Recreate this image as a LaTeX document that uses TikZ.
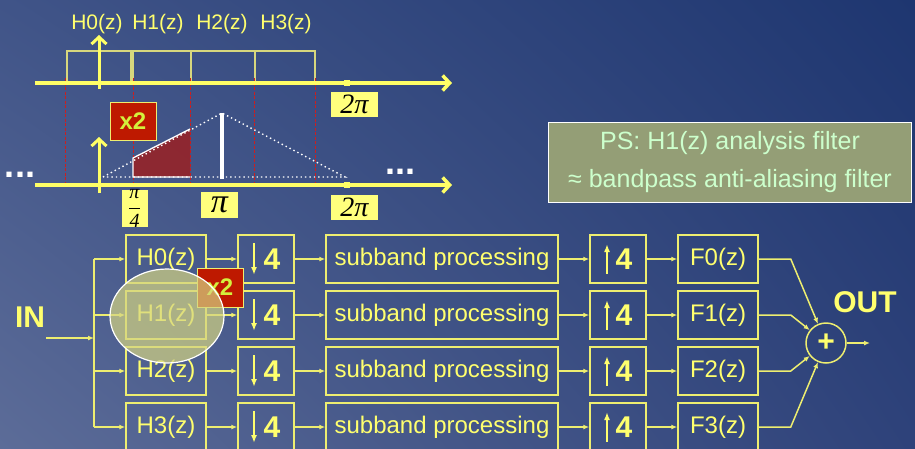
\documentclass[tikz,border=0pt]{standalone}
\usepackage{fontspec}
\setmainfont{Liberation Sans}
\newfontfamily\pifont{Liberation Serif}
\usetikzlibrary{arrows.meta,positioning,shadings}

\definecolor{bgul}{RGB}{64,84,136}
\definecolor{bgur}{RGB}{30,54,112}
\definecolor{bgll}{RGB}{92,108,152}
\definecolor{bglr}{RGB}{46,66,122}
\definecolor{axyel}{RGB}{255,255,102}
\definecolor{boxyel}{RGB}{238,238,112}
\definecolor{txtyel}{RGB}{255,255,110}
\definecolor{bandyel}{RGB}{215,215,125}
\definecolor{piyel}{RGB}{255,255,125}
\definecolor{xred}{RGB}{190,25,0}
\definecolor{xgreen}{RGB}{212,240,60}
\definecolor{psfill}{RGB}{148,158,118}
\definecolor{pstxt}{RGB}{204,255,204}
\definecolor{redband}{RGB}{205,30,30}
\definecolor{hlfill}{RGB}{212,212,130}
\definecolor{trapred}{RGB}{150,35,40}

\begin{document}
\begin{tikzpicture}[x=1pt, y=-1pt,
    blk/.style={draw=boxyel, line width=1.5pt, minimum width=80, minimum height=48, inner sep=0pt, text=txtyel, font=\fontsize{24}{28}\selectfont},
    rate/.style={blk, minimum width=56, font=\fontsize{30}{34}\selectfont\bfseries},
    ratearr/.style={-{Latex[length=8pt,width=6pt]}, line width=1.8pt, draw=txtyel},
    downbox/.style={rate, path picture={\draw[ratearr] ([xshift=-12pt,yshift=16pt]path picture bounding box.center) -- ([xshift=-12pt,yshift=-16pt]path picture bounding box.center);}},
    upbox/.style={rate, path picture={\draw[ratearr] ([xshift=-11pt,yshift=-15pt]path picture bounding box.center) -- ([xshift=-11pt,yshift=15pt]path picture bounding box.center);}},
    sub/.style={blk, minimum width=232},
    sumc/.style={circle, draw=boxyel, line width=1.5pt, minimum size=40, inner sep=0pt, text=txtyel, font=\fontsize{30}{34}\selectfont\bfseries},
    io/.style={text=txtyel, font=\fontsize{30}{34}\selectfont\bfseries},
    arr/.style={-{Latex[length=6pt,width=5pt]}, line width=1.5pt, draw=boxyel},
    wire/.style={line width=1.5pt, draw=boxyel},
    axis/.style={-{Straight Barb[length=7pt,width=15pt]}, line width=3.5pt, draw=axyel},
    bandbox/.style={draw=bandyel, line width=1.2pt},
    bandline/.style={draw=redband, line width=1pt, dash pattern=on 3pt off 1.5pt},
    dotline/.style={draw=white, line width=1.4pt, dash pattern=on 1.4pt off 3pt},
    pibox/.style={fill=piyel, inner sep=0pt, text=black},
    redbox/.style={draw=boxyel, line width=1pt, fill=xred, text=xgreen, minimum width=46, minimum height=38, font=\fontsize{24}{28}\selectfont\bfseries},
    toplbl/.style={text=txtyel, font=\fontsize{21}{24}\selectfont},
    dots/.style={text=white, anchor=base, inner sep=0pt, font=\fontsize{36}{40}\selectfont\bfseries}
]
\useasboundingbox (0,0) rectangle (915,448);
\shade[upper left=bgul, upper right=bgur, lower left=bgll, lower right=bglr] (0,0) rectangle (915,448);

% spectrum of the analysis bank
\node[toplbl] (lh0) at (97,24) {H0(z)};
\node[toplbl] (lh1) at (158,24) {H1(z)};
\node[toplbl] (lh2) at (222,24) {H2(z)};
\node[toplbl] (lh3) at (286,24) {H3(z)};
\draw[bandbox] (67,51) rectangle (131,83);
\draw[bandbox] (133,51) rectangle (191,83);
\draw[bandbox] (191,51) rectangle (255,83);
\draw[bandbox] (255,51) rectangle (315,83);
\draw[bandline] (65,78) -- (65,182) (133,78) -- (133,182) (190,78) -- (190,182)
    (254,78) -- (254,182) (315,78) -- (315,182);
\draw[axis] (35,83) -- (452,83);
\draw[axis, line width=3pt] (99,89) -- (99,35);
\fill[axyel] (344,80) rectangle (350,86);
\node[pibox, minimum width=47, minimum height=25, font=\pifont\itshape\fontsize{28}{28}\selectfont] (tp2) at (354.5,104.5) {2π};

% spectrum after the gain
\fill[trapred, opacity=0.9] (133,158) -- (190,129) -- (190,177) -- (133,177) -- cycle;
\draw[white, line width=1.3pt] (190,129) -- (133,158) -- (133,177) -- (190,177);
\draw[dotline] (103,177) -- (222,113) -- (345,177) -- cycle;
\draw[white, line width=3.5pt] (222,113) -- (222,179);
\draw[axis] (35,185) -- (452,185);
\draw[axis, line width=3pt] (99,193) -- (99,137);
\fill[axyel] (344,182) rectangle (350,188);
\node[dots] (dl) at (20,177) {...};
\node[dots] (dr) at (400,174) {...};
\node[redbox] (gtop) at (133,121) {x2};
\node[pibox, minimum width=26, minimum height=31, font=\pifont\itshape\fontsize{20}{20}\selectfont] (pq) at (134.5,208.5)
    {$\displaystyle{\hbox{π}\over\hbox{4}}$};
\node[pibox, minimum width=37, minimum height=26, font=\pifont\itshape\fontsize{34}{34}\selectfont] (pi) at (219.5,205) {π};
\node[pibox, minimum width=47, minimum height=25, font=\pifont\itshape\fontsize{28}{28}\selectfont] (bp2) at (354.5,207.5) {2π};

% note
\node[draw=white, line width=0.8pt, fill=psfill, text=pstxt, minimum width=363, minimum height=80,
      align=center, font=\fontsize{25}{38}\selectfont] (ps) at (730,162)
      {PS: H1(z) analysis filter\\≈ bandpass anti-aliasing filter};

% filter bank
\node[blk] (h0) at (166,259) {H0(z)};
\node[blk] (h1) at (166,315) {H1(z)};
\node[blk] (h2) at (166,371) {H2(z)};
\node[blk] (h3) at (166,427) {H3(z)};
\node[downbox] (d0) at (266,259) {\hspace*{12pt}4};
\node[downbox] (d1) at (266,315) {\hspace*{12pt}4};
\node[downbox] (d2) at (266,371) {\hspace*{12pt}4};
\node[downbox] (d3) at (266,427) {\hspace*{12pt}4};
\node[sub] (s0) at (442,259) {subband processing};
\node[sub] (s1) at (442,315) {subband processing};
\node[sub] (s2) at (442,371) {subband processing};
\node[sub] (s3) at (442,427) {subband processing};
\node[upbox] (u0) at (618,259) {\hspace*{12pt}4};
\node[upbox] (u1) at (618,315) {\hspace*{12pt}4};
\node[upbox] (u2) at (618,371) {\hspace*{12pt}4};
\node[upbox] (u3) at (618,427) {\hspace*{12pt}4};
\node[blk] (f0) at (718,259) {F0(z)};
\node[blk] (f1) at (718,315) {F1(z)};
\node[blk] (f2) at (718,371) {F2(z)};
\node[blk] (f3) at (718,427) {F3(z)};
\node[sumc] (sum) at (826,343) {+};
\node[io] (inlbl) at (30,317) {IN};
\node[io] (outlbl) at (865,302) {OUT};
\coordinate (inp) at (46,338);
\coordinate (bus) at (94,338);
\coordinate (outp) at (870,343);

\draw[arr] (inp) -- (bus);
\draw[wire] (bus |- h0) -- (bus |- h3);
\draw[arr] (bus |- h0) -- (h0);
\draw[arr] (bus |- h1) -- (h1);
\draw[arr] (bus |- h2) -- (h2);
\draw[arr] (bus |- h3) -- (h3);
\draw[arr] (h0) -- (d0); \draw[arr] (d0) -- (s0); \draw[arr] (s0) -- (u0); \draw[arr] (u0) -- (f0);
\draw[arr] (h1) -- (d1); \draw[arr] (d1) -- (s1); \draw[arr] (s1) -- (u1); \draw[arr] (u1) -- (f1);
\draw[arr] (h2) -- (d2); \draw[arr] (d2) -- (s2); \draw[arr] (s2) -- (u2); \draw[arr] (u2) -- (f2);
\draw[arr] (h3) -- (d3); \draw[arr] (d3) -- (s3); \draw[arr] (s3) -- (u3); \draw[arr] (u3) -- (f3);
\draw[arr] (f0.east) -- ++(32,0) -- (sum);
\draw[arr] (f1.east) -- ++(32,0) -- (sum);
\draw[arr] (f2.east) -- ++(32,0) -- (sum);
\draw[arr] (f3.east) -- ++(32,0) -- (sum);
\draw[arr] (sum) -- (outp);

% highlight of H1(z)
\node[redbox, minimum height=39] (gbot) at (220,287.5) {x2};
\fill[hlfill, opacity=0.7] (167,316) ellipse [x radius=57, y radius=47];
\draw[white, line width=1.2pt] (167,316) ellipse [x radius=57, y radius=47];
\end{tikzpicture}
\end{document}
